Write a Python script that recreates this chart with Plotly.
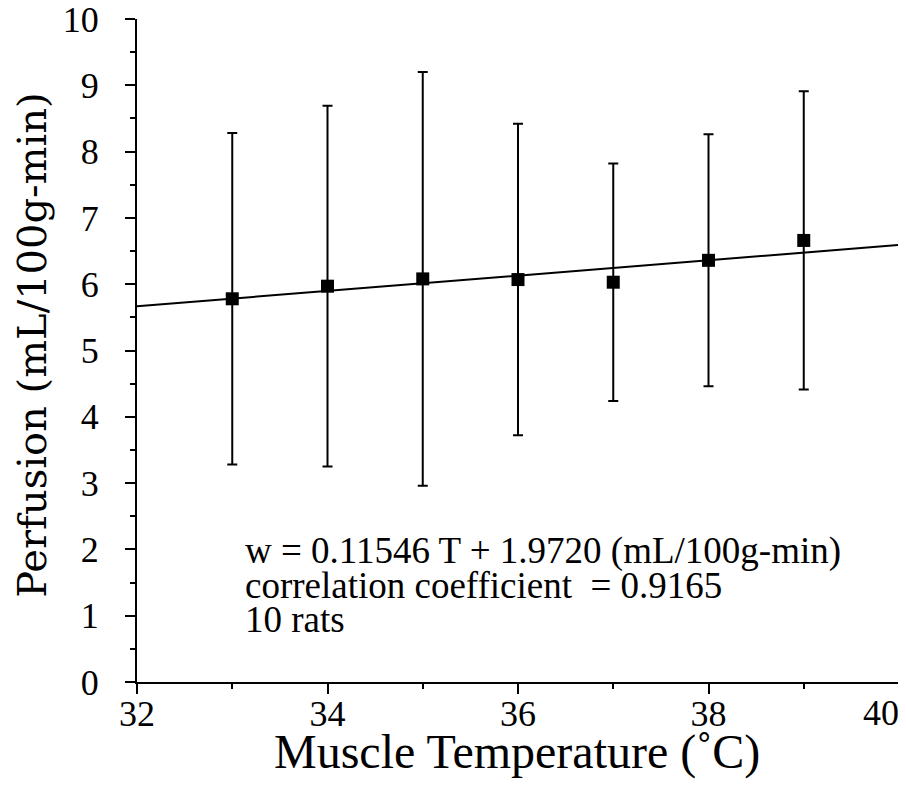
import plotly.graph_objects as go

temperature = [33, 34, 35, 36, 37, 38, 39]
perfusion_mean = [5.78, 5.97, 6.08, 6.07, 6.03, 6.36, 6.66]
perfusion_sd = [2.50, 2.72, 3.12, 2.35, 1.79, 1.90, 2.25]

fit_T = [32, 40]
fit_w = [5.6672, 6.5909]

x_ticks = [32, 34, 36, 38, 40]
x_ticktext = ["32", "34", "36", "38", ""]
last_x_label = "40"
y_ticks = [0, 1, 2, 3, 4, 5, 6, 7, 8, 9, 10]

annotation_lines = [
    "w = 0.11546 T + 1.9720 (mL/100g-min)",
    "correlation coefficient  = 0.9165",
    "10 rats",
]
x_title = "Muscle Temperature (˚C)"
y_title = "Perfusion (mL/100g-min)"

serif = "Liberation Serif, Times New Roman, serif"

fig = go.Figure()

fig.add_trace(go.Scatter(
    x=fit_T, y=fit_w, mode="lines",
    line=dict(color="black", width=2),
    showlegend=False, hoverinfo="skip",
))

fig.add_trace(go.Scatter(
    x=temperature, y=perfusion_mean, mode="markers",
    marker=dict(symbol="square", size=13, color="black"),
    error_y=dict(type="data", array=perfusion_sd, visible=True,
                 color="black", thickness=2, width=5),
    showlegend=False,
))

ann_y = [1.98, 1.46, 0.95]
for txt, yy in zip(annotation_lines, ann_y):
    fig.add_annotation(
        x=33.11, y=yy, xref="x", yref="y", text=txt, showarrow=False,
        xanchor="left", yanchor="middle",
        font=dict(family=serif, size=37, color="black"),
    )

# last x tick label, pulled inside the figure like the reference
fig.add_annotation(
    x=x_ticks[-1], y=0, xref="x", yref="y", text=last_x_label, showarrow=False,
    xanchor="right", yanchor="top", xshift=2, yshift=-9,
    font=dict(family=serif, size=36, color="black"),
)

fig.add_annotation(
    x=0.499, y=-0.106, xref="paper", yref="paper", text=x_title, showarrow=False,
    xanchor="center", yanchor="middle",
    font=dict(family=serif, size=48, color="black"),
)
fig.add_annotation(
    x=-0.137, y=0.508, xref="paper", yref="paper", text=y_title, showarrow=False,
    xanchor="center", yanchor="middle", textangle=-90,
    font=dict(family="DejaVu Serif, serif", size=40, color="black"),
)

# page body has an 8px margin: shrink figure and margins so the plot area
# lands where the reference has it inside the 906x789 window
fig.update_layout(
    width=898, height=781,
    margin=dict(l=129, r=7, t=11, b=107),
    paper_bgcolor="white", plot_bgcolor="white",
    font=dict(family=serif, color="black"),
)

fig.update_xaxes(
    range=[32, 40], tickvals=x_ticks, ticktext=x_ticktext,
    automargin=False, ticklabeloverflow="allow",
    showline=True, linecolor="black", linewidth=2,
    ticks="outside", ticklen=10, tickwidth=2, tickcolor="black",
    minor=dict(dtick=1, tick0=32, ticks="outside", ticklen=5, tickwidth=2, tickcolor="black"),
    showgrid=False, zeroline=False,
    tickfont=dict(family=serif, size=36, color="black"),
    ticklabelstandoff=-11,
)

fig.update_yaxes(
    range=[0, 10], tickvals=y_ticks, ticktext=[str(v) for v in y_ticks],
    automargin=False, ticklabeloverflow="allow",
    showline=True, linecolor="black", linewidth=2,
    ticks="outside", ticklen=10, tickwidth=2, tickcolor="black",
    minor=dict(dtick=0.5, tick0=0, ticks="outside", ticklen=5, tickwidth=2, tickcolor="black"),
    showgrid=False, zeroline=False,
    tickfont=dict(family=serif, size=36, color="black"),
    ticklabelstandoff=19,
)

fig.write_html("out.html")
